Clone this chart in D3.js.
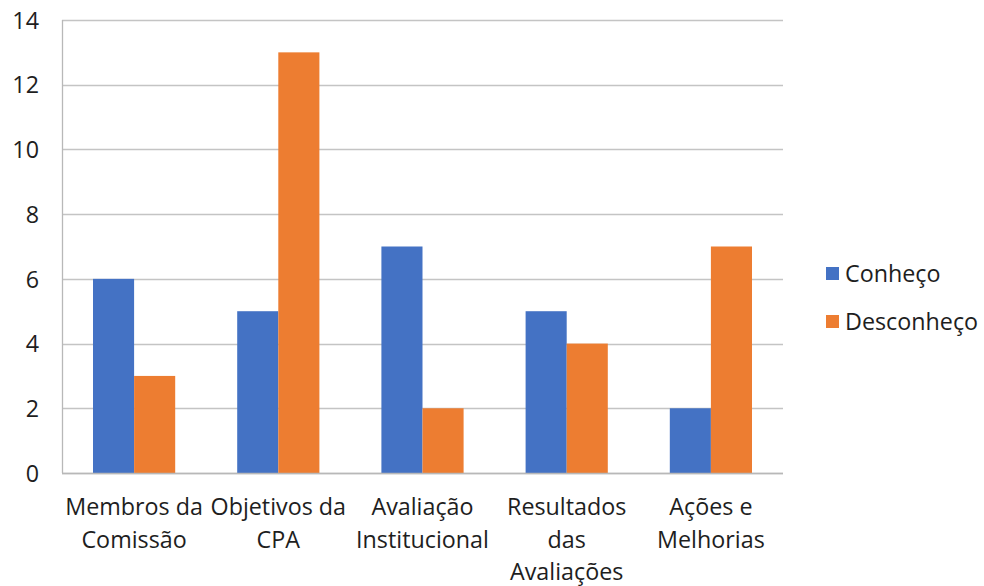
<!DOCTYPE html>
<html><head><meta charset="utf-8">
<script src="https://cdn.jsdelivr.net/npm/d3@7"></script>
<style>body{margin:0;background:#fff}svg{display:block}</style>
</head><body>
<svg id="c" width="984" height="586"></svg>
<script>
const categories = [
  ["Membros da","Comissão"],
  ["Objetivos da","CPA"],
  ["Avaliação","Institucional"],
  ["Resultados","das","Avaliações"],
  ["Ações e","Melhorias"]
];
const seriesNames = ["Conheço","Desconheço"];
const conheco = [6,5,7,5,2];
const desconheco = [3,13,2,4,7];
const yTicks = [0,2,4,6,8,10,12,14];
const colors = ["#4472C4","#ED7D31"];

const svg = d3.select("#c");
const font = "'Open Sans', sans-serif";
const fs = 23.3;
const m = {l:62, r:984-783, t:20, b:586-473};
const W = 984, H = 586;
const keys = categories.map((c,i)=>i);
const x = d3.scaleBand().domain(keys).range([m.l, W-m.r]).paddingInner(0.43).paddingOuter(0.215);
const x0 = d3.scaleBand().domain(keys).range([m.l, W-m.r]);
const xs = d3.scaleBand().domain([0,1]).range([0, x.bandwidth()]);
const y = d3.scaleLinear().domain([0,14]).range([H-m.b, m.t]);

// gridlines
svg.append("g").selectAll("line").data(yTicks).join("line")
  .attr("x1", m.l).attr("x2", W-m.r)
  .attr("y1", d=>Math.round(y(d))+0.5).attr("y2", d=>Math.round(y(d))+0.5)
  .attr("stroke","#c4c4c4").attr("stroke-width",1.3);

// y axis labels
const yAxis = d3.axisLeft(y).tickValues(yTicks).tickSize(0).tickPadding(23);
const ga = svg.append("g").attr("transform",`translate(${m.l},0)`).call(yAxis);
ga.select(".domain").remove();
ga.selectAll("text").attr("font-family",font).attr("font-size",fs).attr("fill","#1e1e1e").attr("dy","0.35em");

// bars
const series = [conheco, desconheco];
series.forEach((vals, si)=>{
  svg.append("g").selectAll("rect").data(vals).join("rect")
    .attr("x",(d,i)=>x(i)+xs(si))
    .attr("width",xs.bandwidth())
    .attr("y",d=>y(d))
    .attr("height",d=>y(0)-y(d))
    .attr("fill",colors[si]);
});

// left axis line
svg.append("line").attr("x1",m.l+0.5).attr("x2",m.l+0.5).attr("y1",y(14)).attr("y2",y(0))
  .attr("stroke","#b8b8b8").attr("stroke-width",1.3);
// bottom axis
svg.append("line").attr("x1",m.l).attr("x2",W-m.r).attr("y1",Math.round(y(0))+0.5).attr("y2",Math.round(y(0))+0.5)
  .attr("stroke","#b8b8b8").attr("stroke-width",1.3);

// category labels
const cl = svg.append("g");
categories.forEach((lines,i)=>{
  const t = cl.append("text").attr("text-anchor","middle")
    .attr("font-family",font).attr("font-size",fs).attr("fill","#1e1e1e");
  lines.forEach((ln,j)=>{
    t.append("tspan").attr("x", x0(i)+x0.bandwidth()/2).attr("y", 515 + j*32.5).text(ln);
  });
});

// legend
const lg = svg.append("g");
seriesNames.forEach((n,i)=>{
  const yy = 267 + i*48;
  lg.append("rect").attr("x",826).attr("y",yy).attr("width",13).attr("height",13).attr("fill",colors[i]);
  lg.append("text").attr("x",845).attr("y",yy+7).attr("dy","0.35em")
    .attr("font-family",font).attr("font-size",fs).attr("fill","#1e1e1e").text(n);
});
</script>
</body></html>
